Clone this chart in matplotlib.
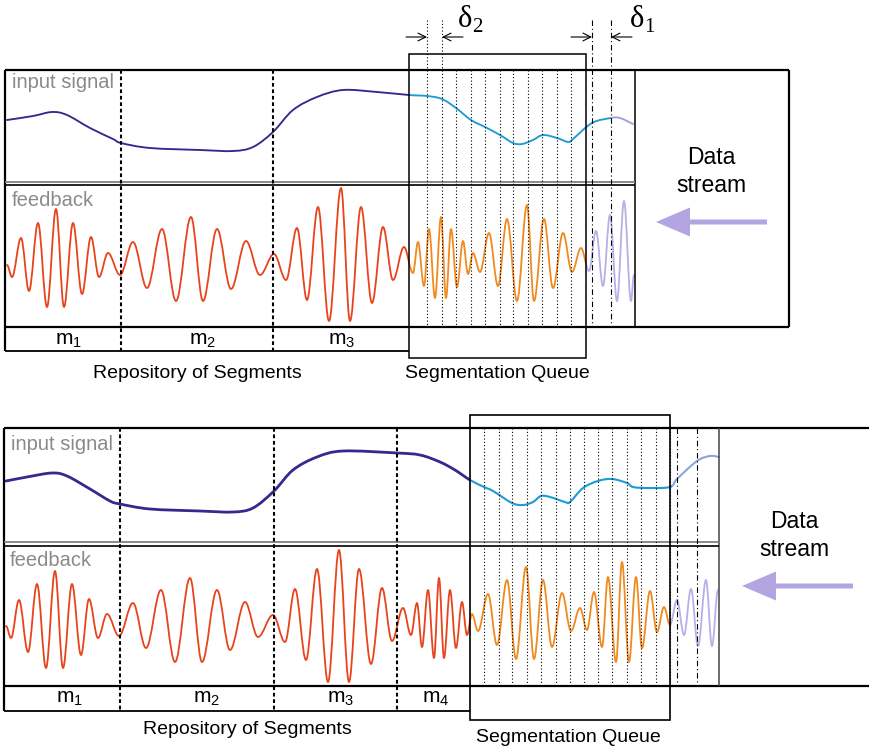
import matplotlib
matplotlib.use("Agg")
import matplotlib.pyplot as plt
from matplotlib.path import Path
from matplotlib.patches import PathPatch, Rectangle, FancyArrow

plt.rcParams['font.family'] = ['Liberation Sans', 'DejaVu Sans']
plt.rcParams['mathtext.fontset'] = 'custom'
plt.rcParams['mathtext.rm'] = 'Liberation Sans'
plt.rcParams['mathtext.default'] = 'regular'

# ---- data (pixel coords) ----
top_in_x = [7, 33, 52, 67, 90, 113, 121, 150, 200, 233, 253, 273, 293, 317, 343, 377, 409,
            427, 442, 456, 471, 485, 500, 513, 522, 533, 543, 557, 568, 573, 592, 611, 620, 633]
top_in_y = [120, 116, 112, 115, 128, 139, 143, 148, 150, 151, 147, 132, 110, 97, 90, 92, 95,
            96, 99, 108, 120, 127, 135, 143, 144, 140, 135, 138, 142, 139, 123, 118, 118, 124]

bot_in_x = [6, 27, 52, 67, 90, 110, 120, 150, 200, 233, 253, 274, 293, 317, 343, 397, 420, 440,
            455, 470, 484, 493, 512, 523, 533, 541, 550, 565, 570, 583, 598, 612, 627, 633, 647,
            670, 677, 697, 710, 719]
bot_in_y = [481, 477, 473, 476, 489, 501, 504, 509, 511, 512, 508, 491, 470, 457, 451, 453, 455,
            462, 470, 480, 487, 491, 503, 505, 502, 496, 497, 502, 502, 488, 481, 479, 483, 487,
            488, 487, 479, 461, 456, 457]

# feedback extrema
top_fb_x = [7, 12, 21, 29, 38, 47, 56, 64, 73, 82, 91, 99, 108, 120, 133, 147, 162, 176, 191, 203,
            217, 231, 246, 260, 274, 286, 297, 307, 318, 329, 341, 350, 361, 372, 383, 393, 404, 413,
            418, 424, 429, 435, 441, 446, 451, 457, 463, 468, 473, 480, 489, 498, 507, 517, 527, 534,
            544, 553, 563, 572, 581, 589, 596, 603, 610, 617, 624, 631, 634]
top_fb_y = [265, 277, 238, 291, 223, 307, 209, 307, 223, 294, 237, 277, 253, 275, 242, 288, 229, 301,
            217, 301, 229, 289, 241, 275, 254, 280, 228, 300, 207, 321, 188, 321, 207, 303, 227, 280,
            247, 273, 242, 286, 229, 298, 217, 298, 229, 287, 241, 274, 253, 272, 233, 286, 219, 301,
            205, 301, 219, 288, 233, 272, 248, 271, 231, 286, 215, 301, 201, 301, 275]

bot_fb_x = [6, 11, 19, 28, 37, 46, 55, 63, 72, 81, 89, 98, 107, 119, 133, 146, 161, 175, 190, 202,
            217, 230, 245, 258, 273, 285, 295, 306, 317, 328, 339, 349, 359, 371, 382, 392, 403, 411,
            417, 422, 428, 434, 439, 444, 450, 456, 462, 467, 472, 478, 488, 497, 507, 516, 526, 534,
            543, 552, 562, 571, 580, 587, 594, 602, 608, 616, 622, 629, 636, 642, 650, 657, 664, 670,
            677, 684, 691, 698, 706, 712, 718]
bot_fb_y = [626, 638, 600, 652, 584, 668, 571, 668, 584, 655, 599, 638, 614, 636, 603, 648, 590, 662,
            578, 662, 590, 650, 602, 637, 615, 642, 589, 660, 569, 682, 550, 682, 569, 664, 588, 641,
            608, 635, 603, 647, 590, 658, 578, 658, 590, 648, 602, 635, 614, 631, 594, 645, 580, 659,
            567, 659, 580, 647, 593, 631, 608, 630, 592, 647, 577, 662, 562, 662, 577, 648, 591, 632,
            607, 625, 600, 635, 589, 646, 580, 646, 590]

top_seg_labels = ["m$_1$", "m$_2$", "m$_3$"]
top_seg_x = [68, 202, 342]
bot_seg_labels = ["m$_1$", "m$_2$", "m$_3$", "m$_4$"]
bot_seg_x = [69, 206, 341, 436]
top_dividers = [121, 273]
bot_dividers = [120, 274, 397]
top_queue_lines = [427, 442, 456, 471, 485, 500, 513, 528, 542, 557, 571]
top_dashdot = [592, 611]
bot_queue_lines = [484, 499, 512, 527, 541, 556, 570, 584, 598, 612, 627, 641, 656, 670]
bot_dashdot = [677, 697]

NAVY = "#35288f"
CYAN = "#1d9bd3"
RED = "#e8431c"
ORANGE = "#f08a1e"
LAV = "#b9aee6"
LAV_IN = "#a99bd8"
LAV_IN2 = "#8fa2e0"
ARROW = "#b3a4e2"
GRAY = "#8a8a8a"


def smooth_path(xs, ys):
    pts = list(zip(xs, ys))
    verts = [pts[0]]
    codes = [Path.MOVETO]
    n = len(pts)
    for i in range(n - 1):
        p0 = pts[max(i - 1, 0)]
        p1 = pts[i]
        p2 = pts[i + 1]
        p3 = pts[min(i + 2, n - 1)]
        c1 = (p1[0] + (p2[0] - p0[0]) / 6, p1[1] + (p2[1] - p0[1]) / 6)
        c2 = (p2[0] - (p3[0] - p1[0]) / 6, p2[1] - (p3[1] - p1[1]) / 6)
        verts += [c1, c2, p2]
        codes += [Path.CURVE4] * 3
    return Path(verts, codes)


def wave_path(xs, ys):
    verts = [(xs[0], ys[0])]
    codes = [Path.MOVETO]
    for i in range(len(xs) - 1):
        dx = xs[i + 1] - xs[i]
        verts += [(xs[i] + 0.36 * dx, ys[i]), (xs[i + 1] - 0.36 * dx, ys[i + 1]), (xs[i + 1], ys[i + 1])]
        codes += [Path.CURVE4] * 3
    return Path(verts, codes)


def draw_clipped(ax, path, pieces, lw):
    for x0, x1, col, w in pieces:
        pp = PathPatch(path, facecolor="none", edgecolor=col, lw=w if w else lw,
                       capstyle="round", joinstyle="round", zorder=3)
        ax.add_patch(pp)
        pp.set_clip_path(Rectangle((x0, 0), x1 - x0, 749, transform=ax.transData))


def hline(ax, y, x0, x1, lw=1.5, color="black", **kw):
    ax.plot([x0, x1], [y, y], color=color, lw=lw, solid_capstyle="butt", zorder=5, **kw)


def vline(ax, x, y0, y1, lw=1.5, color="black", **kw):
    ax.plot([x, x], [y0, y1], color=color, lw=lw, solid_capstyle="butt", zorder=5, **kw)


fig = plt.figure(figsize=(8.69, 7.49), dpi=100)
ax = fig.add_axes([0, 0, 1, 1])
ax.set_xlim(0, 869)
ax.set_ylim(749, 0)
ax.axis("off")

dotted = (0, (1, 2))
dashdot = (0, (5, 2.5, 1, 2.5))
divider = (0, (1.8, 1.3))

# ================= top panel =================
draw_clipped(ax, smooth_path(top_in_x, top_in_y),
             [(0, 409, NAVY, None), (409, 611, CYAN, None), (611, 640, LAV_IN, None)], 1.35)
draw_clipped(ax, wave_path(top_fb_x, top_fb_y),
             [(0, 409, RED, None), (409, 585.5, ORANGE, None), (585.5, 640, LAV, None)], 1.3)

hline(ax, 70, 5, 789, lw=1.6)
hline(ax, 327, 5, 789, lw=1.6)
vline(ax, 5, 70, 351, lw=1.6)
vline(ax, 789, 70, 327, lw=1.6)
vline(ax, 635, 70, 327, lw=1.1)
hline(ax, 181.5, 5, 635, lw=1.2, color="#777777")
hline(ax, 185, 5, 635, lw=1.2)
hline(ax, 351, 5, 409, lw=1.3)
ax.add_patch(Rectangle((409, 54), 176.5, 304, fill=False, lw=1.1, ec="black", zorder=5))
for x in top_dividers:
    vline(ax, x, 70, 351, lw=1.5, linestyle=divider)
for x in top_queue_lines:
    y0 = 20 if x in top_queue_lines[:2] else 70
    vline(ax, x, y0, 325, lw=0.8, linestyle=dotted)
for x in top_dashdot:
    vline(ax, x, 20, 325, lw=0.8, linestyle=dashdot)

# delta annotations
akw = dict(arrowstyle="->", lw=0.8, color="black", mutation_scale=14, shrinkA=0, shrinkB=0)
ax.annotate("", xy=(427, 37), xytext=(406, 37), arrowprops=akw)
ax.annotate("", xy=(442, 37), xytext=(463, 37), arrowprops=akw)
ax.annotate("", xy=(592, 37), xytext=(571, 37), arrowprops=akw)
ax.annotate("", xy=(611, 37), xytext=(632, 37), arrowprops=akw)
ax.text(458, 27, "δ", family="Liberation Serif", fontsize=22, ha="left", va="baseline")
ax.text(472, 32, "2", family="Liberation Serif", fontsize=15, ha="left", va="baseline")
ax.text(630, 27, "δ", family="Liberation Serif", fontsize=22, ha="left", va="baseline")
ax.text(644, 32, "1", family="Liberation Serif", fontsize=15, ha="left", va="baseline")

ax.text(12, 83, "input signal", color=GRAY, fontsize=14.5, ha="left", va="center")
ax.text(12, 200, "feedback", color=GRAY, fontsize=14.5, ha="left", va="center")
for lab, x in zip(top_seg_labels, top_seg_x):
    ax.text(x, 340, lab, fontsize=15, ha="center", va="center")
ax.text(197, 373, "Repository of Segments", fontsize=14, ha="center", va="center")
ax.text(497, 373, "Segmentation Queue", fontsize=14, ha="center", va="center")
ax.text(711, 158, "Data", fontsize=16.5, ha="center", va="center")
ax.text(711, 185, "stream", fontsize=16.5, ha="center", va="center")
ax.add_patch(FancyArrow(767, 222, -111, 0, width=5, head_width=29, head_length=34,
                        length_includes_head=True, color=ARROW, lw=0, zorder=4))

# ================= bottom panel =================
draw_clipped(ax, smooth_path(bot_in_x, bot_in_y),
             [(0, 470, NAVY, 2.0), (470, 672, CYAN, 1.5), (672, 722, LAV_IN2, 1.5)], 1.5)
draw_clipped(ax, wave_path(bot_fb_x, bot_fb_y),
             [(0, 470, RED, None), (470, 669, ORANGE, None), (669, 722, LAV, None)], 1.3)

hline(ax, 428, 4, 869, lw=1.6)
hline(ax, 686, 4, 869, lw=1.6)
vline(ax, 4, 428, 711, lw=1.6)
vline(ax, 719, 428, 686, lw=1.1, color="#444444")
hline(ax, 542, 4, 719, lw=1.2, color="#777777")
hline(ax, 546, 4, 719, lw=1.2)
hline(ax, 711, 4, 470, lw=1.3)
ax.add_patch(Rectangle((470, 415), 200, 305, fill=False, lw=1.2, ec="black", zorder=5))
for x in bot_dividers:
    vline(ax, x, 428, 711, lw=1.5, linestyle=divider)
for x in bot_queue_lines:
    vline(ax, x, 428, 685, lw=0.8, linestyle=dotted)
for x in bot_dashdot:
    vline(ax, x, 428, 685, lw=0.8, linestyle=dashdot)

ax.text(11, 445, "input signal", color=GRAY, fontsize=14.5, ha="left", va="center")
ax.text(10, 560, "feedback", color=GRAY, fontsize=14.5, ha="left", va="center")
for lab, x in zip(bot_seg_labels, bot_seg_x):
    ax.text(x, 699, lab, fontsize=15, ha="center", va="center")
ax.text(247, 730, "Repository of Segments", fontsize=14, ha="center", va="center")
ax.text(568, 737, "Segmentation Queue", fontsize=14, ha="center", va="center")
ax.text(794, 522, "Data", fontsize=16.5, ha="center", va="center")
ax.text(794, 549, "stream", fontsize=16.5, ha="center", va="center")
ax.add_patch(FancyArrow(853, 586, -111, 0, width=5, head_width=29, head_length=34,
                        length_includes_head=True, color=ARROW, lw=0, zorder=4))

fig.savefig("out.png", dpi=100)
